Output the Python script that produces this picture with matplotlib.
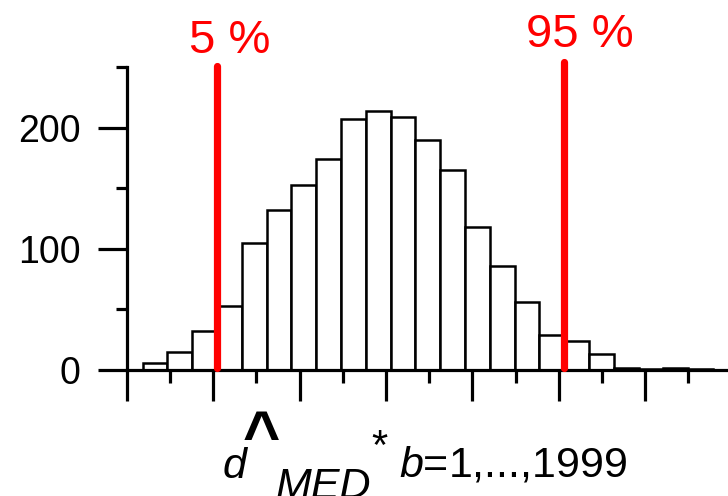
import numpy as np
import matplotlib
matplotlib.use("Agg")
import matplotlib.pyplot as plt
from matplotlib.ticker import MultipleLocator, NullFormatter

# ---- data ----
counts = [6, 15, 32, 53, 105, 132, 153, 174, 207, 214, 209, 190,
          165, 118, 86, 56, 29, 24, 13, 2, 1, 2, 1]
bin_start = 0.185
bin_width = 0.287
pct_5 = 1.05
pct_95 = 5.06
pct_labels = ["5 %", "95 %"]
y_ticks = [0, 100, 200]

W, H = 728, 496
plt.rcParams['font.family'] = ['Liberation Sans', 'DejaVu Sans']
plt.rcParams['mathtext.fontset'] = 'custom'
plt.rcParams['mathtext.rm'] = 'Liberation Sans'
plt.rcParams['mathtext.it'] = 'Liberation Sans:italic'
fig = plt.figure(figsize=(W / 100, H / 100), dpi=100)

ax = fig.add_axes([126.7 / W, 126 / H, (W - 126.7) / W, 303 / H])

edges = bin_start + bin_width * np.arange(len(counts))
ax.bar(edges, counts, width=bin_width, align='edge', facecolor='white',
       edgecolor='black', linewidth=1.8, zorder=2)

ax.set_xlim(0, (W - 126.7) / 86.4)
ax.set_ylim(0, 250)

for s in ['top', 'right']:
    ax.spines[s].set_visible(False)
for s in ['left', 'bottom']:
    ax.spines[s].set_linewidth(2.3)
    ax.spines[s].set_zorder(3)

ax.xaxis.set_major_locator(MultipleLocator(1))
ax.xaxis.set_minor_locator(MultipleLocator(0.5))
ax.xaxis.set_major_formatter(NullFormatter())
ax.set_yticks(y_ticks)
ax.yaxis.set_minor_locator(MultipleLocator(50))
ax.tick_params(axis='x', which='major', direction='out', length=22, width=2.3)
ax.tick_params(axis='x', which='minor', direction='out', length=9, width=2.3)
ax.tick_params(axis='y', which='major', direction='out', length=21, width=2.3,
               labelsize=27, pad=12)
ax.tick_params(axis='y', which='minor', direction='out', length=8, width=2.3)

# percentile lines
ax.plot([pct_5, pct_5], [1.5, 251], color='#ff0000', lw=5.2,
        solid_capstyle='round', zorder=5, clip_on=False)
ax.plot([pct_95, pct_95], [1.5, 254.5], color='#ff0000', lw=5.2,
        solid_capstyle='round', zorder=5, clip_on=False)

def fx(px):
    return px / W

def fy(py):
    return 1 - py / H

fig.text(fx(230), fy(53), pct_labels[0], color='#ff0000', fontsize=34,
         ha='center', va='baseline')
fig.text(fx(580), fy(47), pct_labels[1], color='#ff0000', fontsize=34,
         ha='center', va='baseline')

# x label pieces
fig.text(fx(223), fy(478), "d", fontsize=31, style='italic', ha='left', va='baseline')
fig.text(fx(261), fy(456), "^", fontsize=46, fontweight='bold', ha='center', va='baseline')
fig.text(fx(276), fy(498), "MED", fontsize=31, style='italic', ha='left', va='baseline')
fig.text(fx(371), fy(459), "*", fontsize=30, ha='left', va='baseline')
fig.text(fx(399), fy(476), r"$\mathit{b}$=1,...,1999", fontsize=31,
         ha='left', va='baseline')

fig.savefig("out.png", dpi=100)
